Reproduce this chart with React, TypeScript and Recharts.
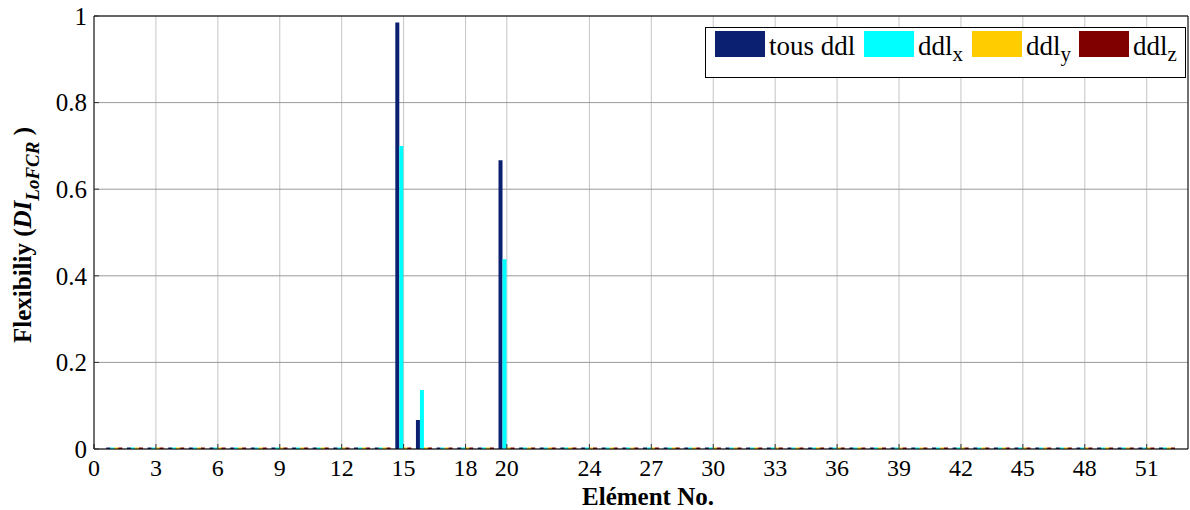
import React from 'react';
import { BarChart, Bar, XAxis, YAxis, CartesianGrid, ReferenceLine } from 'recharts';

// Element numbers along the beam
const elements = [
  1, 2, 3, 4, 5, 6, 7, 8, 9, 10, 11, 12, 13, 14, 15, 16, 17, 18, 19, 20, 21, 22, 23, 24, 25, 26,
  27, 28, 29, 30, 31, 32, 33, 34, 35, 36, 37, 38, 39, 40, 41, 42, 43, 44, 45, 46, 47, 48, 49, 50, 51, 52,
];

// Damage index per element, all DOFs combined
const tousDdl = [
  0, 0, 0, 0, 0, 0, 0, 0, 0, 0, 0, 0, 0, 0, 0.985, 0.067, 0, 0, 0, 0.667, 0, 0, 0, 0, 0, 0,
  0, 0, 0, 0, 0, 0, 0, 0, 0, 0, 0, 0, 0, 0, 0, 0, 0, 0, 0, 0, 0, 0, 0, 0, 0, 0,
];
// Damage index per element, x DOFs only
const ddlX = [
  0, 0, 0, 0, 0, 0, 0, 0, 0, 0, 0, 0, 0, 0, 0.7, 0.136, 0, 0, 0, 0.438, 0, 0, 0, 0, 0, 0,
  0, 0, 0, 0, 0, 0, 0, 0, 0, 0, 0, 0, 0, 0, 0, 0, 0, 0, 0, 0, 0, 0, 0, 0, 0, 0,
];
// Damage index per element, y DOFs only
const ddlY = [
  0, 0, 0, 0, 0, 0, 0, 0, 0, 0, 0, 0, 0, 0, 0, 0, 0, 0, 0, 0, 0, 0, 0, 0, 0, 0,
  0, 0, 0, 0, 0, 0, 0, 0, 0, 0, 0, 0, 0, 0, 0, 0, 0, 0, 0, 0, 0, 0, 0, 0, 0, 0,
];
// Damage index per element, z DOFs only
const ddlZ = [
  0, 0, 0, 0, 0, 0, 0, 0, 0, 0, 0, 0, 0, 0, 0, 0, 0, 0, 0, 0, 0, 0, 0, 0, 0, 0,
  0, 0, 0, 0, 0, 0, 0, 0, 0, 0, 0, 0, 0, 0, 0, 0, 0, 0, 0, 0, 0, 0, 0, 0, 0, 0,
];

const xTicks = [0, 3, 6, 9, 12, 15, 18, 20, 24, 27, 30, 33, 36, 39, 42, 45, 48, 51];
const yTicks = [0, 0.2, 0.4, 0.6, 0.8, 1];

const COLORS = {
  tous: '#0b2070',
  x: '#00ffff',
  y: '#ffcc00',
  z: '#800000',
};

const data = elements.map((el, i) => ({
  el,
  tous: tousDdl[i],
  x: ddlX[i],
  y: ddlY[i],
  z: ddlZ[i],
}));

const FONT = 'Liberation Serif, serif';

const legendItems = [
  { key: 'tous', main: 'tous ddl', sub: '' },
  { key: 'x', main: 'ddl', sub: 'x' },
  { key: 'y', main: 'ddl', sub: 'y' },
  { key: 'z', main: 'ddl', sub: 'z' },
];
const legendSwatchX = [715, 864, 972, 1079];

// Mirror axes only carry inward tick marks, no labels
const NoLabel = () => <g />;

export default function App() {
  return (
    <div style={{ position: 'absolute', left: 0, top: 0, width: 1190, height: 510, background: '#fff' }}>
      <BarChart
        width={1190}
        height={510}
        data={data}
        margin={{ top: 16, right: 2, bottom: 0, left: 0 }}
        barGap={0}
        barSize={4}
      >
        <CartesianGrid horizontal={false} stroke="#c4c4c4" strokeWidth={1} />
        <CartesianGrid vertical={false} stroke="#9a9a9a" strokeWidth={1} />
        <XAxis
          dataKey="el"
          type="number"
          domain={[0, 53]}
          ticks={xTicks}
          interval={0}
          height={61}
          tickSize={-5}
          tickMargin={15}
          axisLine={{ stroke: '#000', strokeWidth: 1 }}
          tickLine={{ stroke: '#333' }}
          tick={{ fill: '#000', fontSize: 24, fontFamily: FONT }}
        />
        <XAxis
          xAxisId="top"
          orientation="top"
          dataKey="el"
          type="number"
          domain={[0, 53]}
          ticks={xTicks}
          interval={0}
          height={0}
          tickSize={-5}
          axisLine={false}
          tickLine={{ stroke: '#333' }}
          tick={NoLabel}
        />
        <YAxis
          type="number"
          domain={[0, 1]}
          ticks={yTicks}
          interval={0}
          width={94}
          tickSize={-5}
          tickMargin={12}
          axisLine={{ stroke: '#000', strokeWidth: 1 }}
          tickLine={{ stroke: '#333' }}
          tick={{ fill: '#000', fontSize: 25, fontFamily: FONT }}
        />
        <YAxis
          yAxisId="right"
          orientation="right"
          type="number"
          domain={[0, 1]}
          ticks={yTicks}
          interval={0}
          width={0}
          tickSize={-5}
          axisLine={false}
          tickLine={{ stroke: '#333' }}
          tick={NoLabel}
        />
        <ReferenceLine x={53} stroke="#000" strokeWidth={1} />
        <ReferenceLine y={1} stroke="#000" strokeWidth={1} />
        <Bar dataKey="tous" fill={COLORS.tous} minPointSize={1.5} isAnimationActive={false} />
        <Bar dataKey="x" fill={COLORS.x} minPointSize={1.5} isAnimationActive={false} />
        <Bar dataKey="y" fill={COLORS.y} minPointSize={1.5} isAnimationActive={false} />
        <Bar dataKey="z" fill={COLORS.z} minPointSize={1.5} isAnimationActive={false} />
      </BarChart>

      <svg
        width={1190}
        height={510}
        style={{ position: 'absolute', left: 0, top: 0, pointerEvents: 'none' }}
      >
        {/* axis titles */}
        <text
          x={648}
          y={505}
          textAnchor="middle"
          fontFamily={FONT}
          fontWeight="bold"
          fontSize={25}
          fill="#000"
        >
          Elément No.
        </text>
        <text
          transform="translate(31,235) rotate(-90)"
          textAnchor="middle"
          fontFamily={FONT}
          fontWeight="bold"
          fontSize={25}
          fill="#000"
        >
          Flexibiliy (
          <tspan fontStyle="italic">DI</tspan>
          <tspan fontStyle="italic" fontSize={19} dy={8}>LoFCR</tspan>
          <tspan dy={-8}> )</tspan>
        </text>

        {/* legend */}
        <rect x={705.5} y={27.5} width={480} height={50} fill="#fff" stroke="#000" strokeWidth={1} />
        {legendItems.map((item, i) => (
          <g key={item.key}>
            <rect
              x={legendSwatchX[i]}
              y={31}
              width={50}
              height={26}
              fill={COLORS[item.key as keyof typeof COLORS]}
            />
            <text x={legendSwatchX[i] + 54} y={55} fontFamily={FONT} fontSize={27} fill="#000">
              {item.main}
              {item.sub ? (
                <tspan fontSize={21} dy={6}>
                  {item.sub}
                </tspan>
              ) : null}
            </text>
          </g>
        ))}
      </svg>
    </div>
  );
}
